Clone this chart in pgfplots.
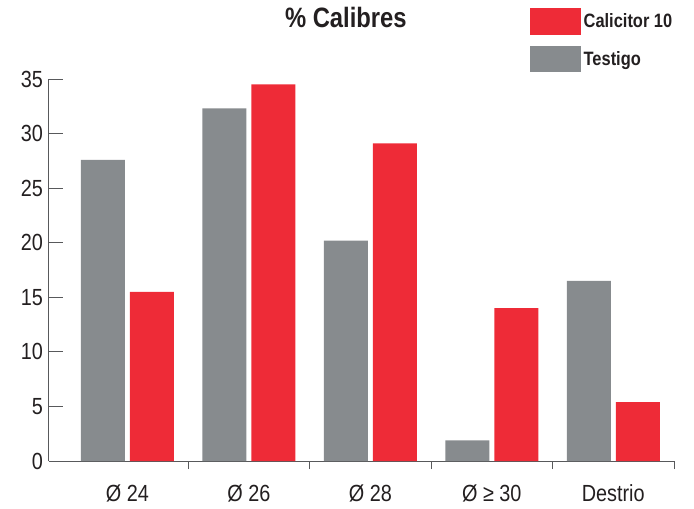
\documentclass[border=0pt]{standalone}
\usepackage{fontspec}
\setmainfont{Liberation Sans}[FakeStretch=0.85]
\usepackage{pgfplots}
\pgfplotsset{compat=1.18}
\definecolor{cred}{HTML}{EE2B37}
\definecolor{cgrey}{HTML}{878B8E}
\definecolor{caxis}{HTML}{58595B}
\definecolor{ctext}{HTML}{231F20}
\begin{document}
\begin{tikzpicture}
\begin{axis}[
  scale only axis,
  width=468.75pt, height=286.5pt,
  anchor=south west, at={(0pt,0pt)},
  ymin=0, ymax=35,
  xmin=-0.646, xmax=4.5,
  ytick={0,5,...,35},
  xtick={0,1,2,3,4},
  xticklabels={Ø 24, Ø 26, Ø 28, Ø ≥ 30, Destrio},
  minor xtick={0.5,1.5,2.5,3.5,4.5},
  tick align=inside,
  major tick length=10.5pt,
  minor tick length=6pt,
  major x tick style={draw=none},
  tick style={color=caxis, line width=0.75pt},
  axis x line*=bottom, axis y line*=left,
  axis line style={color=caxis, line width=0.75pt, -},
  /pgf/number format/assume math mode=true,
  tick label style={font=\fontsize{17.5pt}{19pt}\selectfont, color=ctext},
  xticklabel style={yshift=-4pt},
  yticklabel style={xshift=-1pt},
  ybar, bar width=33pt,
  title={\textbf{\% Calibres}},
  title style={at={(0.475,1.115)}, anchor=base, font=\fontsize{21pt}{23pt}\selectfont, color=ctext},
  legend style={draw=none, fill=none, inner sep=0pt, outer sep=0pt,
    at={(0.7696,1.186)}, anchor=north west,
    font=\fontsize{14.5pt}{16pt}\selectfont\bfseries, text=ctext,
    row sep=8pt, cells={anchor=west}},
  legend image code/.code={\fill[#1] (0pt,-10.1pt) rectangle (38.25pt,10.1pt);},
]
\addplot[fill=cred, draw=none, bar shift=18.375pt] coordinates {(0,15.5) (1,34.5) (2,29.1) (3,14.0) (4,5.4)};
\addlegendentry{Calicitor 10}
\addplot[fill=cgrey, draw=none, bar shift=-18.375pt] coordinates {(0,27.6) (1,32.3) (2,20.2) (3,1.9) (4,16.5)};
\addlegendentry{Testigo}
\end{axis}
\pgfresetboundingbox
\path (-36.75pt,-35.25pt) rectangle (483.75pt,345.75pt);
\end{tikzpicture}
\end{document}
